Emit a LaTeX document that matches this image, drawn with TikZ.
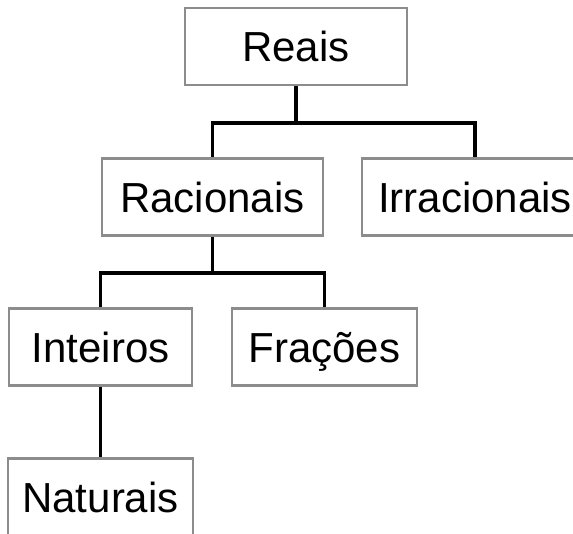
\documentclass[tikz,border=0pt]{standalone}
\usepackage{fontspec}
\setmainfont{Liberation Sans}
\usepackage{tikz}
\usetikzlibrary{positioning, calc}
\definecolor{boxgray}{HTML}{8C8C8C}
\tikzstyle{numbox} = [draw=boxgray, line width=2.7pt, minimum height=77pt, text height=30pt, text depth=0pt, inner sep=0pt, font=\fontsize{42}{50}\selectfont]
\tikzstyle{link} = [line width=3.3pt, black]

\begin{document}
\begin{tikzpicture}[x=1pt, y=-1pt]
	\path[use as bounding box, clip] (0,0) rectangle (573,533);
	% boxes
	\node (Reais) [numbox, minimum width=222pt] at (296,46.5) {Reais};
	\node (Racionais) [numbox, minimum width=221pt] at (212.5,197) {Racionais};
	\node (Irracionais) [numbox, minimum width=226pt] at (475,197) {Irracionais};
	\node (Inteiros) [numbox, minimum width=183pt] at (100.5,347) {Inteiros};
	\node (Fracoes) [numbox, minimum width=185pt] at (324.5,347) {Frações};
	\node (Naturais) [numbox, minimum width=185pt] at (100.5,497) {Naturais};
	% links
	\coordinate (fork1) at (Reais.south |- 0,123);
	\coordinate (fork2) at (Racionais.south |- 0,273);
	\draw[link] (Reais.south) -- (fork1);
	\draw[link] (Racionais.north) |- (fork1) -| (Irracionais.north);
	\draw[link] (Racionais.south) -- (fork2);
	\draw[link] (Inteiros.north) |- (fork2) -| (Fracoes.north);
	\draw[link] (Inteiros.south) -- (Naturais.north);
\end{tikzpicture}
\end{document}
